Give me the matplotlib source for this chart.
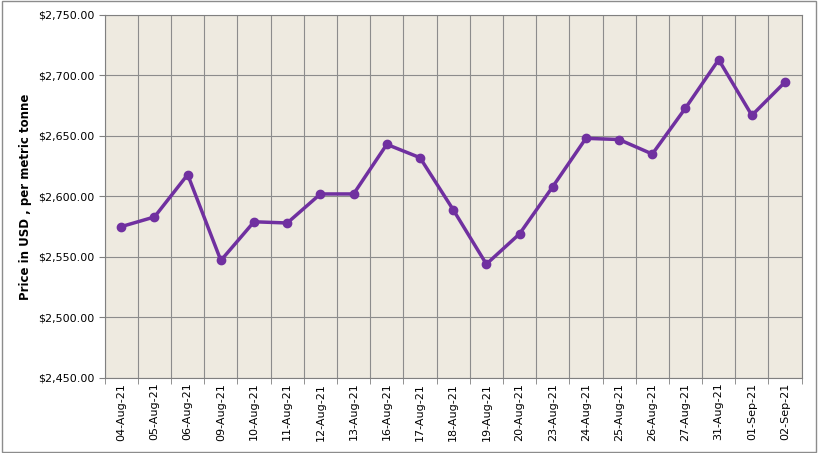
import matplotlib.pyplot as plt
import numpy as np
from matplotlib.ticker import FuncFormatter, MultipleLocator

dates = ["04-Aug-21", "05-Aug-21", "06-Aug-21", "09-Aug-21", "10-Aug-21", "11-Aug-21",
         "12-Aug-21", "13-Aug-21", "16-Aug-21", "17-Aug-21", "18-Aug-21", "19-Aug-21",
         "20-Aug-21", "23-Aug-21", "24-Aug-21", "25-Aug-21", "26-Aug-21", "27-Aug-21",
         "31-Aug-21", "01-Sep-21", "02-Sep-21"]
prices = [2575, 2583, 2618, 2547, 2579, 2578, 2602, 2602, 2643, 2632, 2589, 2544,
          2569, 2608, 2648, 2647, 2635, 2673, 2713, 2667, 2694.5]

fig = plt.figure(figsize=(8.18, 4.53), dpi=100)
fig.patch.set_facecolor("white")
border = plt.Rectangle((0.002, 0.002), 0.996, 0.996, transform=fig.transFigure,
                       fill=False, edgecolor="#8c8c8c", linewidth=1)
fig.patches.append(border)

ax = fig.add_axes([0.128, 0.166, 0.852, 0.801])
ax.set_facecolor("#EEEAE0")
x = np.arange(len(dates))
ax.plot(x, prices, color="#7030A0", linewidth=2.5, marker="o", markersize=6, zorder=3)

ax.set_xlim(-0.5, len(dates) - 0.5)
ax.set_ylim(2450, 2750)
ax.yaxis.set_major_locator(MultipleLocator(50))
ax.yaxis.set_major_formatter(FuncFormatter(lambda v, p: f"${v:,.2f}"))
ax.set_xticks(x)
ax.set_xticklabels(dates, rotation=90, fontsize=8)
ax.set_xticks(np.arange(-0.5, len(dates)), minor=True)
ax.tick_params(axis="x", which="major", length=0)
ax.tick_params(axis="x", which="minor", length=4, color="#808080")
ax.tick_params(axis="y", labelsize=8, length=4, color="#808080")
ax.grid(True, which="minor", axis="x", color="#8c8c8c", linewidth=0.8)
ax.grid(True, which="major", axis="y", color="#8c8c8c", linewidth=0.8)
for s in ax.spines.values():
    s.set_color("#808080")
ax.set_ylabel("Price in USD , per metric tonne", fontsize=8.5, fontweight="bold")

fig.savefig("out.png", dpi=100)
